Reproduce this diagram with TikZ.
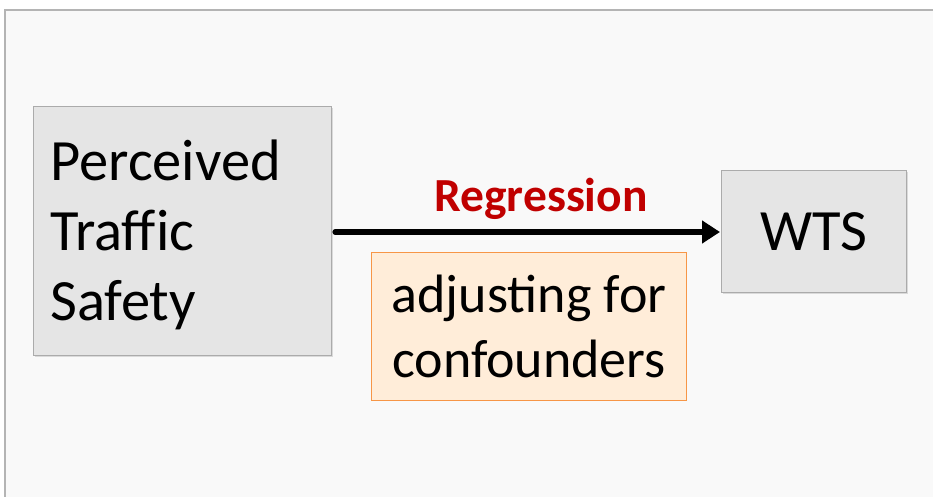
\documentclass[tikz,border=0pt]{standalone}
\usepackage{fontspec}
\setmainfont{Carlito}
\usetikzlibrary{arrows.meta,shadows}
\definecolor{panelbg}{HTML}{F9F9F9}
\definecolor{panelline}{HTML}{B4B4B4}
\definecolor{boxfill}{HTML}{E5E5E5}
\definecolor{boxline}{HTML}{ABABAB}
\definecolor{notefill}{HTML}{FFEDD9}
\definecolor{noteline}{HTML}{F79646}
\definecolor{regred}{HTML}{C00000}
\tikzset{
  varbox/.style={draw=boxline, fill=boxfill, line width=1.2pt,
    drop shadow={shadow xshift=1.5pt, shadow yshift=-1.5pt, opacity=0.25}},
  notebox/.style={draw=noteline, fill=notefill, line width=1.2pt},
  bigtext/.style={font=\fontsize{58.5}{70}\selectfont},
  effect/.style={line width=5.5pt, line cap=round, -{Triangle[length=18pt,width=22pt]}}
}
\begin{document}
\begin{tikzpicture}[x=1pt,y=-1pt]
\useasboundingbox (0,0) rectangle (933,497);
% background panel
\draw[panelline, fill=panelbg, line width=1.5pt] (5,10) rectangle (945,510);
% variables
\node[varbox, minimum width=298pt, minimum height=249pt, anchor=north west] (pts) at (33,106) {};
\node[bigtext, anchor=north west, align=left, inner sep=0pt] (ptstext) at (50,140)
  {Perceived\\Traff\kern0pt ic\\Safety};
\node[varbox, minimum width=185pt, minimum height=122pt, anchor=north west, bigtext, inner sep=0pt] (wts) at (721,170) {WTS};
% note on the adjustment
\node[notebox, minimum width=315pt, minimum height=148pt, anchor=north west] (adj) at (371,252) {};
\node[font=\fontsize{54}{65}\selectfont, align=center, inner sep=0pt] (adjtext) at (adj.center)
  {adjusting for\\confounders};
% regression arrow
\coordinate (start) at (pts.east |- 0,232);
\coordinate (stop) at (wts.west |- 0,232);
\draw[effect] ([xshift=3pt]start) -- ([xshift=-1pt]stop);
\node[text=regred, font=\bfseries\fontsize{47.5}{57}\selectfont, inner sep=0pt] (reg) at (541,199) {Regression};
\end{tikzpicture}
\end{document}
